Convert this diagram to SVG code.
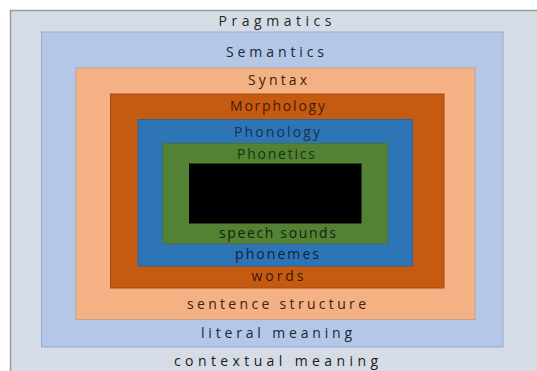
<svg xmlns="http://www.w3.org/2000/svg" width="537" height="371" viewBox="0 0 537 371">
<style>
text{font-family:"Open Sans","Liberation Sans",sans-serif;font-size:14px;text-anchor:middle}
.l0{fill:#d6dce5;stroke:#9a9a9a;stroke-width:1.5}
.l1{fill:#b4c7e7;stroke:#8faadc;stroke-width:1}
.l2{fill:#f4b183;stroke:#c9a08a;stroke-width:1}
.l3{fill:#c55a11;stroke:#a64a0e;stroke-width:1}
.l4{fill:#2e75b6;stroke:#2a64a0;stroke-width:1}
.l5{fill:#548235;stroke:#4a7230;stroke-width:1}
.l6{fill:#000}
</style>
<rect x="0" y="0" width="537" height="371" fill="#ffffff"/>
<g id="pragmatics">
<rect class="l0" x="10.5" y="10.5" width="530" height="365"/>
<text x="275" y="26" fill="#262626" textLength="113" lengthAdjust="spacing">Pragmatics</text>
<text x="276" y="366" fill="#1a1a1a" textLength="204" lengthAdjust="spacing">contextual meaning</text>
</g>
<g id="semantics">
<rect class="l1" x="41.5" y="32" width="461.5" height="315"/>
<text x="275" y="57" fill="#1c2536" textLength="98" lengthAdjust="spacing">Semantics</text>
<text x="276.5" y="338" fill="#1c2536" textLength="151" lengthAdjust="spacing">literal meaning</text>
</g>
<g id="syntax">
<rect class="l2" x="76" y="68" width="399" height="251.5"/>
<text x="277.5" y="84.5" fill="#3a2010" textLength="59" lengthAdjust="spacing">Syntax</text>
<text x="276.5" y="309" fill="#3a2010" textLength="179" lengthAdjust="spacing">sentence structure</text>
</g>
<g id="morphology">
<rect class="l3" x="110.5" y="94" width="333.5" height="194"/>
<text x="277.5" y="111" fill="#4a1c04" textLength="95" lengthAdjust="spacing">Morphology</text>
<text x="277.5" y="281" fill="#3a1604" textLength="52" lengthAdjust="spacing">words</text>
</g>
<g id="phonology">
<rect class="l4" x="138" y="119.5" width="274.5" height="146.5"/>
<text x="277" y="136.5" fill="#1a2e52" textLength="86" lengthAdjust="spacing">Phonology</text>
<text x="277" y="259" fill="#10213f" textLength="84" lengthAdjust="spacing">phonemes</text>
</g>
<g id="phonetics">
<rect class="l5" x="163" y="143.5" width="224.5" height="100"/>
<text x="276" y="158.5" fill="#1c3010" textLength="78" lengthAdjust="spacing">Phonetics</text>
<text x="277.5" y="237.5" fill="#15250b" textLength="117" lengthAdjust="spacing">speech sounds</text>
</g>
<g id="core">
<rect class="l6" x="189" y="163.5" width="172.5" height="60"/>
</g>
<g id="connectors"></g>
</svg>
